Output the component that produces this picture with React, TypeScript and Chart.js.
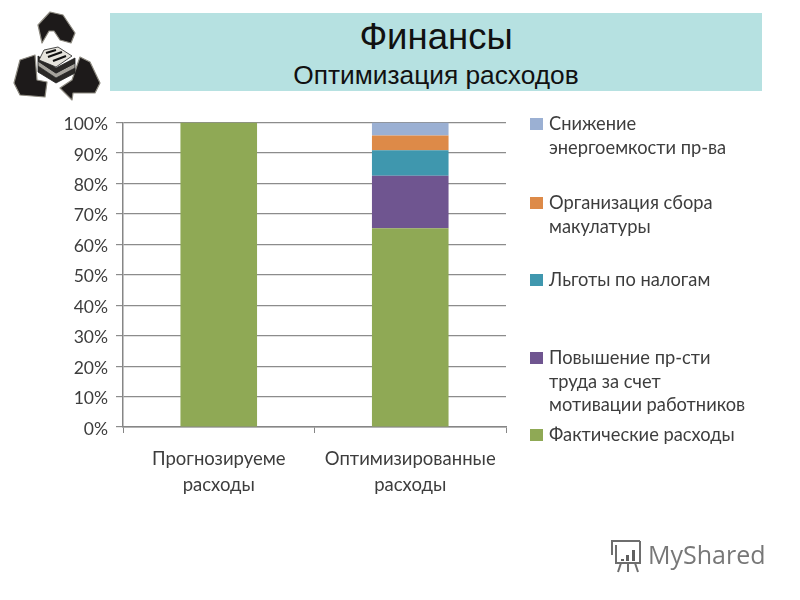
import React, { useEffect, useRef } from "react";
import { Chart, registerables } from "chart.js";

Chart.register(...registerables);

const categories = [["Прогнозируеме", "расходы"], ["Оптимизированные", "расходы"]];
const actual = [100, 65.3];
const productivity = [0, 17.2];
const taxBreaks = [0, 8.4];
const paperCollection = [0, 4.8];
const energySaving = [0, 4.3];
const yTicks = [0, 10, 20, 30, 40, 50, 60, 70, 80, 90, 100];

const legendRows: { label: string[]; color: string; top: number }[] = [
  { label: ["Снижение", "энергоемкости пр-ва"], color: "#9bb0d3", top: 112 },
  { label: ["Организация сбора", "макулатуры"], color: "#dd8a48", top: 191 },
  { label: ["Льготы по налогам"], color: "#3f97ae", top: 268 },
  { label: ["Повышение пр-сти", "труда за счет", "мотивации работников"], color: "#6f5590", top: 346 },
  { label: ["Фактические расходы"], color: "#8fa955", top: 423 },
];

const FONT = "Lato, 'Open Sans', sans-serif";
const TEXT = "#3d3d3d";

function Logo() {
  return (
    <svg width="120" height="110" viewBox="0 0 120 110" style={{ position: "absolute", left: 0, top: 0 }}>
      <g fill="#1d1a1a" stroke="#8d8a80" strokeWidth="1.2" strokeLinejoin="round">
        <path d="M38,25 L50,12 L63,15 L75,33 L71,43 L60,40 L54,31 L49,31 L42,43 Z" />
        <path d="M14,83 L20,60 L35,55 L37,80 L47,82 L45,97 L20,95 Z" />
        <path d="M60,88 L72,80 L80,57 L90,62 L100,83 L95,93 L73,93 L72,100 Z" />
      </g>
      <g stroke="#222" strokeWidth="0.8">
        <path d="M38,66 L56,78 L75,68 L75,73 L56,83 L38,72 Z" fill="#2a2826" />
        <path d="M38,61 L56,73 L75,63 L75,68 L56,78 L38,66 Z" fill="#a6a39c" />
        <path d="M38,56 L56,68 L75,58 L75,63 L56,73 L38,61 Z" fill="#2a2826" />
        <path d="M39,60 L44,50 L58,47 L72,56 L56,67 Z" fill="#e6e4dd" />
        <path d="M46,53 L56,50 M48,57 L62,52 M53,61 L66,56" stroke="#111" strokeWidth="2.2" />
      </g>
    </svg>
  );
}

function Watermark() {
  return (
    <div style={{ position: "absolute", left: 607, top: 537, width: 170, height: 36, opacity: 0.85 }}>
      <svg width="38" height="36" viewBox="0 0 38 36" style={{ position: "absolute", left: 0, top: 0 }}>
        <g fill="none" stroke="#555" strokeWidth="2">
          <path d="M4,4 H33 M5,4 V18 M9,8 V26 H33 V4" />
          <path d="M14,26 L11,35 M21,26 V35 M28,26 L31,35" />
        </g>
        <path d="M14,22 h3 v2 h-3 Z M19,18 h3 v6 h-3 Z M25,13 h3 v11 h-3 Z" fill="#444" />
      </svg>
      <span style={{ position: "absolute", left: 41, top: -1, font: "25px/36px 'Open Sans', sans-serif", color: "#606060" }}>MyShared</span>
    </div>
  );
}

export default function App() {
  const ref = useRef<HTMLCanvasElement>(null);

  useEffect(() => {
    document.body.style.margin = "0";
    document.body.style.background = "#fff";
    const chart = new Chart(ref.current!, {
      type: "bar",
      data: {
        labels: categories,
        datasets: [
          { label: "Фактические расходы", data: actual, backgroundColor: legendRows[4].color },
          { label: "Повышение пр-сти труда за счет мотивации работников", data: productivity, backgroundColor: legendRows[3].color },
          { label: "Льготы по налогам", data: taxBreaks, backgroundColor: legendRows[2].color },
          { label: "Организация сбора макулатуры", data: paperCollection, backgroundColor: legendRows[1].color },
          { label: "Снижение энергоемкости пр-ва", data: energySaving, backgroundColor: legendRows[0].color },
        ],
      },
      options: {
        animation: false,
        responsive: false,
        layout: { padding: { top: 122.5, right: 294, left: 0, bottom: 0 } },
        plugins: { legend: { display: false }, title: { display: false }, tooltip: { enabled: false } },
        datasets: { bar: { categoryPercentage: 0.4, barPercentage: 1, borderWidth: 0 } },
        scales: {
          x: {
            stacked: true,
            afterFit: (s: any) => { s.height = 173; },
            grid: { display: true, drawOnChartArea: false, drawTicks: true, tickLength: 6, color: "#868686", offset: true },
            border: { color: "#868686", width: 1.5 },
            ticks: { color: TEXT, font: { family: FONT, size: 18.5, lineHeight: 1.42 }, maxRotation: 0, padding: 13 },
          },
          y: {
            stacked: true,
            min: 0,
            max: 100,
            afterFit: (s: any) => { s.width = 123; },
            afterBuildTicks: (s: any) => { s.ticks = yTicks.map((value) => ({ value })); },
            grid: { color: "#8c8c8c", lineWidth: 1.2, tickLength: 7 },
            border: { color: "#868686", width: 1.5 },
            ticks: {
              color: TEXT,
              font: { family: FONT, size: 17.5 },
              padding: 8,
              labelOffset: 2,
              callback: (v: any) => `${v}%`,
            },
          },
        },
      },
    });
    return () => chart.destroy();
  }, []);

  return (
    <div style={{ position: "relative", width: 800, height: 600, overflow: "hidden", background: "#fff" }}>
      <canvas ref={ref} width={800} height={600} style={{ position: "absolute", left: 0, top: 0, display: "block" }} />
      <Logo />
      <div style={{ position: "absolute", left: 110, top: 13, width: 652, height: 78, background: "#b6e1e1" }} />
      <div style={{ position: "absolute", left: 110, top: 15, width: 652, textAlign: "center", font: "36.5px/44px 'Liberation Sans', sans-serif", color: "#111" }}>
        Финансы
      </div>
      <div style={{ position: "absolute", left: 110, top: 59, width: 652, textAlign: "center", font: "26.3px/32px 'Liberation Sans', sans-serif", color: "#111" }}>
        Оптимизация расходов
      </div>
      {legendRows.map((row) => (
        <div key={row.label[0]}>
          <div style={{ position: "absolute", left: 530, top: row.top + 6, width: 13, height: 12, background: row.color }} />
          <div style={{ position: "absolute", left: 549, top: row.top, font: `18.3px/23.5px ${FONT}`, color: TEXT, whiteSpace: "nowrap" }}>
            {row.label.map((line) => (
              <div key={line}>{line}</div>
            ))}
          </div>
        </div>
      ))}
      <Watermark />
    </div>
  );
}
